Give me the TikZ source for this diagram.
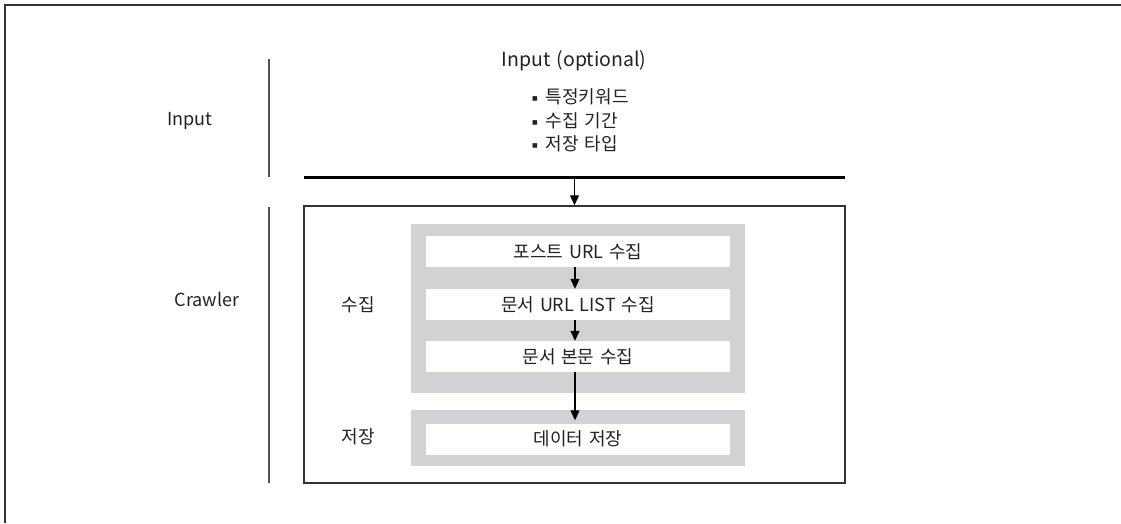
\documentclass[tikz,border=0pt]{standalone}
\usepackage{fontspec}
\setmainfont{Noto Sans CJK KR}[WordSpace=1.4]
\newfontfamily\bulletfont{DejaVu Sans}
\usetikzlibrary{arrows.meta}
\definecolor{boxgray}{HTML}{D1D2D4}
\definecolor{linegray}{HTML}{555555}
\definecolor{darkline}{HTML}{333333}
\definecolor{txt}{HTML}{222222}
\newcommand{\bulmark}{\raisebox{3.5pt}{\bulletfont\fontsize{6}{6}\selectfont ■}\hspace{8pt}}
\begin{document}
\begin{tikzpicture}[x=1pt,y=-1pt,
  lbl/.style={font=\fontsize{18}{21}\selectfont, inner sep=0pt, text=txt},
  graybox/.style={fill=boxgray, draw=none, minimum width=334pt, inner sep=0pt},
  whitebox/.style={fill=white, draw=none, minimum width=304pt, minimum height=31pt, inner sep=0pt, font=\fontsize{18}{21}\selectfont, text=txt},
  arr/.style={-{Triangle[length=10pt,width=9pt]}, line width=1.2pt, black},
  sep/.style={line width=2pt, linegray},
  bul/.style={font=\fontsize{18}{21}\selectfont, inner sep=0pt, anchor=west, text=txt}
]
\useasboundingbox (0,0) rectangle (1121,523);
% frame
\draw[line width=2pt, darkline] (5,523) -- (5,5) -- (1121,5);
% section separators
\draw[sep] (269,59) -- (269,177);
\draw[sep] (269,207) -- (269,483);
% section labels
\node[lbl] (inlbl) at (190,121) {Input};
\node[lbl] (crlbl) at (207,299) {Crawler};
% input block
\node[lbl, font=\fontsize{19.5}{23}\selectfont] (intitle) at (574,61) {Input (optional)};
\node[bul] (b1) at (532,97) {\bulmark 특정키워드};
\node[bul] (b2) at (532,121) {\bulmark 수집 기간};
\node[bul] (b3) at (532,144) {\bulmark 저장 타입};
% thick line
\coordinate (hll) at (304,177);
\coordinate (hlr) at (845,177);
\coordinate (hlm) at (574.5,177);
\draw[line width=3pt, black] (hll) -- (hlr);
% crawler box
\node[draw=darkline, line width=1.5pt, fill=white, minimum width=541pt, minimum height=277pt, inner sep=0pt] (crawler) at (574.5,344.5) {};
% gray boxes
\node[graybox, minimum height=169pt] (g1) at (578,308.5) {};
\node[graybox, minimum height=56pt] (g2) at (578,438) {};
% white boxes
\node[whitebox] (w1) at (578,251.5) {포스트 URL 수집};
\node[whitebox] (w2) at (578,304.5) {문서 URL LIST 수집};
\node[whitebox] (w3) at (578,356.5) {문서 본문 수집};
\node[whitebox] (w4) at (578,439) {데이터 저장};
% stage labels
\node[lbl] (s1) at (358,305) {수집};
\node[lbl] (s2) at (358,437) {저장};
% arrows
\draw[arr] (hlm) -- (crawler.north);
\draw[arr] ([xshift=-3pt]w1.south) -- ([xshift=-3pt]w2.north);
\draw[arr] ([xshift=-3pt]w2.south) -- ([xshift=-3pt]w3.north);
\draw[arr] ([xshift=-3pt]w3.south) -- ([xshift=-3pt,yshift=3pt]w4.north);
\end{tikzpicture}
\end{document}
